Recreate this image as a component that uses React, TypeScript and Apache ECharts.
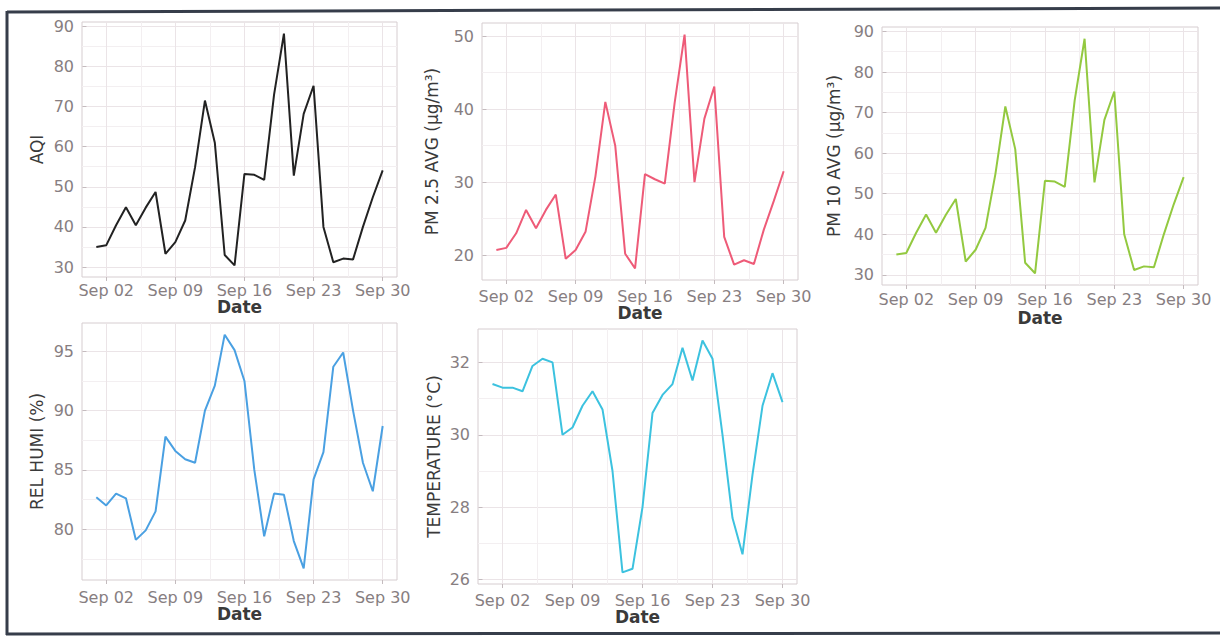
import React, { useEffect, useRef } from "react";
import * as echarts from "echarts";

// ---- data (daily, September) ----
const days = [1, 2, 3, 4, 5, 6, 7, 8, 9, 10, 11, 12, 13, 14, 15, 16, 17, 18, 19, 20, 21, 22, 23, 24, 25, 26, 27, 28, 29, 30];
const aqi = [35.0, 35.4, 40.4, 44.9, 40.4, 44.8, 48.7, 33.3, 36.2, 41.6, 54.9, 71.5, 61.0, 33.0, 30.4, 53.2, 53.0, 51.7, 73.0, 88.2, 52.8, 68.2, 75.2, 40.0, 31.2, 32.1, 31.9, 40.0, 47.4, 54.1];
const pm25 = [20.7, 21.0, 23.0, 26.2, 23.7, 26.2, 28.3, 19.5, 20.7, 23.2, 30.8, 41.0, 35.0, 20.2, 18.2, 31.1, 30.4, 29.8, 40.9, 50.2, 30.0, 38.7, 43.1, 22.5, 18.7, 19.3, 18.8, 23.5, 27.4, 31.5];
const pm10 = [35.0, 35.4, 40.4, 44.9, 40.4, 44.8, 48.7, 33.3, 36.2, 41.6, 54.9, 71.5, 61.0, 33.0, 30.4, 53.2, 53.0, 51.7, 73.0, 88.2, 52.8, 68.2, 75.2, 40.0, 31.2, 32.1, 31.9, 40.0, 47.4, 54.1];
const relHumi = [82.7, 82.0, 83.0, 82.6, 79.1, 79.9, 81.5, 87.8, 86.6, 85.9, 85.6, 90.0, 92.1, 96.4, 95.1, 92.5, 85.0, 79.4, 83.0, 82.9, 79.0, 76.7, 84.2, 86.5, 93.7, 94.9, 90.0, 85.6, 83.2, 88.7];
const temperature = [31.4, 31.3, 31.3, 31.2, 31.9, 32.1, 32.0, 30.0, 30.2, 30.8, 31.2, 30.7, 29.0, 26.2, 26.3, 28.0, 30.6, 31.1, 31.4, 32.4, 31.5, 32.6, 32.1, 30.0, 27.7, 26.7, 28.9, 30.8, 31.7, 30.9];

// ---- ticks ----
const dateTicks = [2, 9, 16, 23, 30];
const dateTickLabels = ["Sep 02", "Sep 09", "Sep 16", "Sep 23", "Sep 30"];
const aqiTicks = [30, 40, 50, 60, 70, 80, 90];
const pm25Ticks = [20, 30, 40, 50];
const pm10Ticks = [30, 40, 50, 60, 70, 80, 90];
const humiTicks = [80, 85, 90, 95];
const tempTicks = [26, 28, 30, 32];

const FONT = "DejaVu Sans";

type Panel = {
  values: number[];
  yTicks: number[];
  title: string;
  color: string;
  grid: { left: number; top: number; width: number; height: number };
  xLabelMargin: number;
  dateGap: number;
  yNameGap: number;
};

const panels: Panel[] = [
  { values: aqi, yTicks: aqiTicks, title: "AQI", color: "#222222", grid: { left: 82, top: 22, width: 315, height: 255 }, xLabelMargin: 3, dateGap: 21, yNameGap: 37 },
  { values: pm25, yTicks: pm25Ticks, title: "PM 2.5 AVG (µg/m³)", color: "#ee5b78", grid: { left: 482, top: 23, width: 316, height: 257 }, xLabelMargin: 6, dateGap: 22, yNameGap: 42 },
  { values: pm10, yTicks: pm10Ticks, title: "PM 10 AVG (µg/m³)", color: "#93c940", grid: { left: 882, top: 27, width: 316, height: 258 }, xLabelMargin: 4, dateGap: 24, yNameGap: 40 },
  { values: relHumi, yTicks: humiTicks, title: "REL HUMI (%)", color: "#4aa0e2", grid: { left: 82, top: 323, width: 315, height: 257 }, xLabelMargin: 7, dateGap: 25, yNameGap: 37 },
  { values: temperature, yTicks: tempTicks, title: "TEMPERATURE (°C)", color: "#3cc2df", grid: { left: 478, top: 329, width: 319, height: 255 }, xLabelMargin: 6, dateGap: 21, yNameGap: 36 },
];

function expandRange(vals: number[]): [number, number] {
  const lo = Math.min(...vals);
  const hi = Math.max(...vals);
  const pad = (hi - lo) * 0.05;
  return [lo - pad, hi + pad];
}

function minorTicks(major: number[], lo: number, hi: number): number[] {
  const step = major[1] - major[0];
  const out: number[] = [];
  for (let i = -1; i < major.length; i++) {
    const v = (i < 0 ? major[0] - step : major[i]) + step / 2;
    if (v > lo && v < hi) out.push(v);
  }
  return out;
}

const GRID_MAJOR = "#ebe4e7";
const GRID_MINOR = "#f3eff1";
const BORDER = "#d6cdd0";
const TICK_TEXT = "#877e81";
const TITLE_TEXT = "#3a3a3a";

export default function App() {
  const ref = useRef<HTMLDivElement>(null);

  useEffect(() => {
    if (!ref.current) return;
    const chart = echarts.init(ref.current, undefined, { renderer: "svg" });

    const [xMin, xMax] = expandRange(days);
    const xMinor = minorTicks(dateTicks, xMin, xMax);

    const grids: any[] = [];
    const xAxes: any[] = [];
    const yAxes: any[] = [];
    const series: any[] = [];

    panels.forEach((p, i) => {
      const [yMin, yMax] = expandRange(p.values);
      const yMinor = minorTicks(p.yTicks, yMin, yMax);
      grids.push({
        ...p.grid,
        show: true,
        borderColor: BORDER,
        borderWidth: 1,
        backgroundColor: "transparent",
        containLabel: false,
      });
      // major x axis
      xAxes.push({
        type: "value",
        gridIndex: i,
        min: xMin,
        max: xMax,
        position: "bottom",
        axisLine: { show: false },
        axisTick: { show: true, customValues: dateTicks, length: 4, lineStyle: { color: "#c4bbbe" } },
        axisLabel: {
          customValues: dateTicks,
          formatter: (v: number) => dateTickLabels[dateTicks.indexOf(Math.round(v))] ?? "",
          margin: p.xLabelMargin + 2,
          color: TICK_TEXT,
          fontSize: 16,
          fontFamily: FONT,
        },
        splitLine: { show: true, lineStyle: { color: GRID_MAJOR, width: 1 } },
        name: "Date",
        nameLocation: "middle",
        nameGap: p.dateGap,
        nameTextStyle: { fontFamily: FONT, fontSize: 17, fontWeight: "bold", color: TITLE_TEXT, verticalAlign: "top" },
      });
      // minor x axis (grid only)
      xAxes.push({
        type: "value",
        gridIndex: i,
        min: xMin,
        max: xMax,
        position: "top",
        axisLine: { show: false },
        axisTick: { show: false, customValues: xMinor },
        axisLabel: { show: false },
        splitLine: { show: true, lineStyle: { color: GRID_MINOR, width: 1 } },
      });
      // major y axis
      yAxes.push({
        type: "value",
        gridIndex: i,
        min: yMin,
        max: yMax,
        position: "left",
        axisLine: { show: false },
        axisTick: { show: true, customValues: p.yTicks, length: 4, lineStyle: { color: "#c4bbbe" } },
        axisLabel: { customValues: p.yTicks, margin: 8, color: TICK_TEXT, fontSize: 16, fontFamily: FONT },
        splitLine: { show: true, lineStyle: { color: GRID_MAJOR, width: 1 } },
        name: p.title,
        nameLocation: "middle",
        nameGap: p.yNameGap,
        nameRotate: 90,
        nameTextStyle: { fontFamily: FONT, fontSize: 17, color: TITLE_TEXT },
      });
      // minor y axis
      yAxes.push({
        type: "value",
        gridIndex: i,
        min: yMin,
        max: yMax,
        position: "right",
        axisLine: { show: false },
        axisTick: { show: false, customValues: yMinor },
        axisLabel: { show: false },
        splitLine: { show: true, lineStyle: { color: GRID_MINOR, width: 1 } },
      });
      series.push({
        type: "line",
        xAxisIndex: 2 * i,
        yAxisIndex: 2 * i,
        data: days.map((d, k) => [d, p.values[k]]),
        showSymbol: false,
        lineStyle: { color: p.color, width: 2 },
        itemStyle: { color: p.color },
        z: 5,
      });
    });

    chart.setOption({
      animation: false,
      backgroundColor: "#ffffff",
      grid: grids,
      xAxis: xAxes,
      yAxis: yAxes,
      series,
      graphic: [
        { type: "line", shape: { x1: 7, y1: 12, x2: 1220, y2: 8 }, style: { stroke: "#363d4a", lineWidth: 3 } },
        { type: "line", shape: { x1: 7, y1: 11, x2: 7, y2: 635 }, style: { stroke: "#363d4a", lineWidth: 3 } },
        { type: "line", shape: { x1: 6, y1: 634, x2: 1220, y2: 633 }, style: { stroke: "#363d4a", lineWidth: 3 } },
      ],
    });

    return () => chart.dispose();
  }, []);

  return (
    <div
      ref={ref}
      style={{ position: "fixed", left: 0, top: 0, width: 1220, height: 644, background: "#ffffff" }}
    />
  );
}
